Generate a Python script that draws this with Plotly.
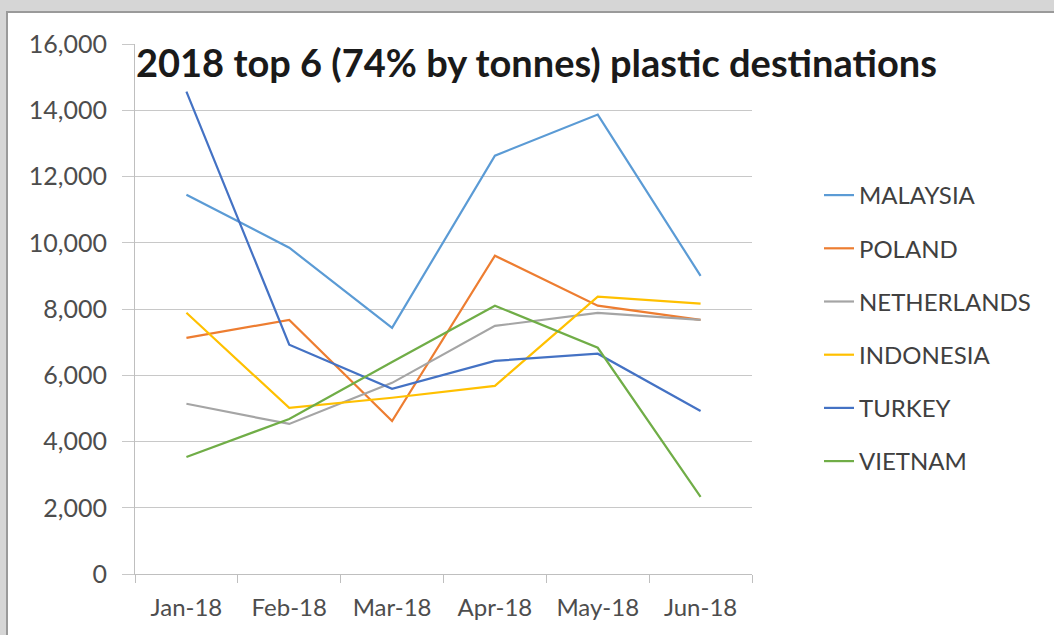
import plotly.graph_objects as go

months = ["Jan-18", "Feb-18", "Mar-18", "Apr-18", "May-18", "Jun-18"]
malaysia = [11450, 9850, 7430, 12630, 13870, 9000]
poland = [7130, 7670, 4620, 9610, 8100, 7670]
netherlands = [5140, 4530, 5770, 7490, 7880, 7670]
indonesia = [7885, 5015, 5320, 5680, 8370, 8160]
turkey = [14560, 6920, 5590, 6435, 6650, 4920]
vietnam = [3530, 4680, 6400, 8100, 6830, 2330]

series_names = ["MALAYSIA", "POLAND", "NETHERLANDS", "INDONESIA", "TURKEY", "VIETNAM"]
series_values = [malaysia, poland, netherlands, indonesia, turkey, vietnam]
colors = ["#5b9bd5", "#ed7d31", "#a5a5a5", "#ffc000", "#4472c4", "#70ad47"]
y_ticks = [0, 2000, 4000, 6000, 8000, 10000, 12000, 14000, 16000]
title_text = "2018 top 6 (74% by tonnes) plastic destinations"

W, H = 1054, 635
L, R, T, B = 135, 752, 44, 574
pw, ph = R - L, B - T

def px_x(x):
    return (x - L) / pw

def px_y(y):
    return (B - y) / ph

fig = go.Figure()
for i, (name, vals, col) in enumerate(zip(series_names, series_values, colors)):
    fig.add_trace(go.Scatter(x=months, y=vals, name=name, mode="lines",
                             line=dict(color=col, width=2.2),
                             legendgroup=name))

fig.update_layout(
    width=W, height=H,
    margin=dict(l=L, r=W - R, t=T, b=H - B, pad=0),
    paper_bgcolor="#d6d6d6",
    plot_bgcolor="rgba(0,0,0,0)",
    font=dict(family="Lato, Open Sans, sans-serif", color="#4d4d4d"),
    showlegend=True,
    legend=dict(x=px_x(819), y=px_y(173), xanchor="left", yanchor="top",
                bgcolor="rgba(0,0,0,0)", tracegroupgap=19,
                font=dict(size=24, color="#404040"), traceorder="grouped"),
    xaxis=dict(type="category", showgrid=False, showline=True, linecolor="#bfbfbf",
               linewidth=1, ticks="outside", tickson="boundaries", ticklen=8,
               tickcolor="#bfbfbf", tickfont=dict(size=24, color="#4d4d4d"),
               range=[-0.5, 5.5], fixedrange=True, ticklabelstandoff=12),
    yaxis=dict(range=[0, 16000], tickvals=y_ticks, tickformat=",d",
               showgrid=True, gridcolor="#c8c8c8", gridwidth=1,
               showline=True, linecolor="#bfbfbf", linewidth=1,
               ticks="outside", ticklen=12, tickcolor="#c8c8c8",
               tickfont=dict(size=25, color="#4d4d4d"), zeroline=False,
               ticklabelstandoff=10),
    shapes=[dict(type="rect", xref="paper", yref="paper",
                 x0=px_x(7), x1=px_x(W + 5), y0=px_y(H + 5), y1=px_y(12),
                 fillcolor="white", line=dict(color="#9a9a9a", width=2),
                 layer="below")],
    annotations=[dict(text="<b>" + title_text + "</b>", xref="paper", yref="paper",
                      x=px_x(134), y=px_y(62), xanchor="left", yanchor="middle",
                      showarrow=False,
                      font=dict(size=38, color="#1a1a1a",
                                family="Lato, Open Sans, sans-serif"))],
)

fig.write_html("out.html")
